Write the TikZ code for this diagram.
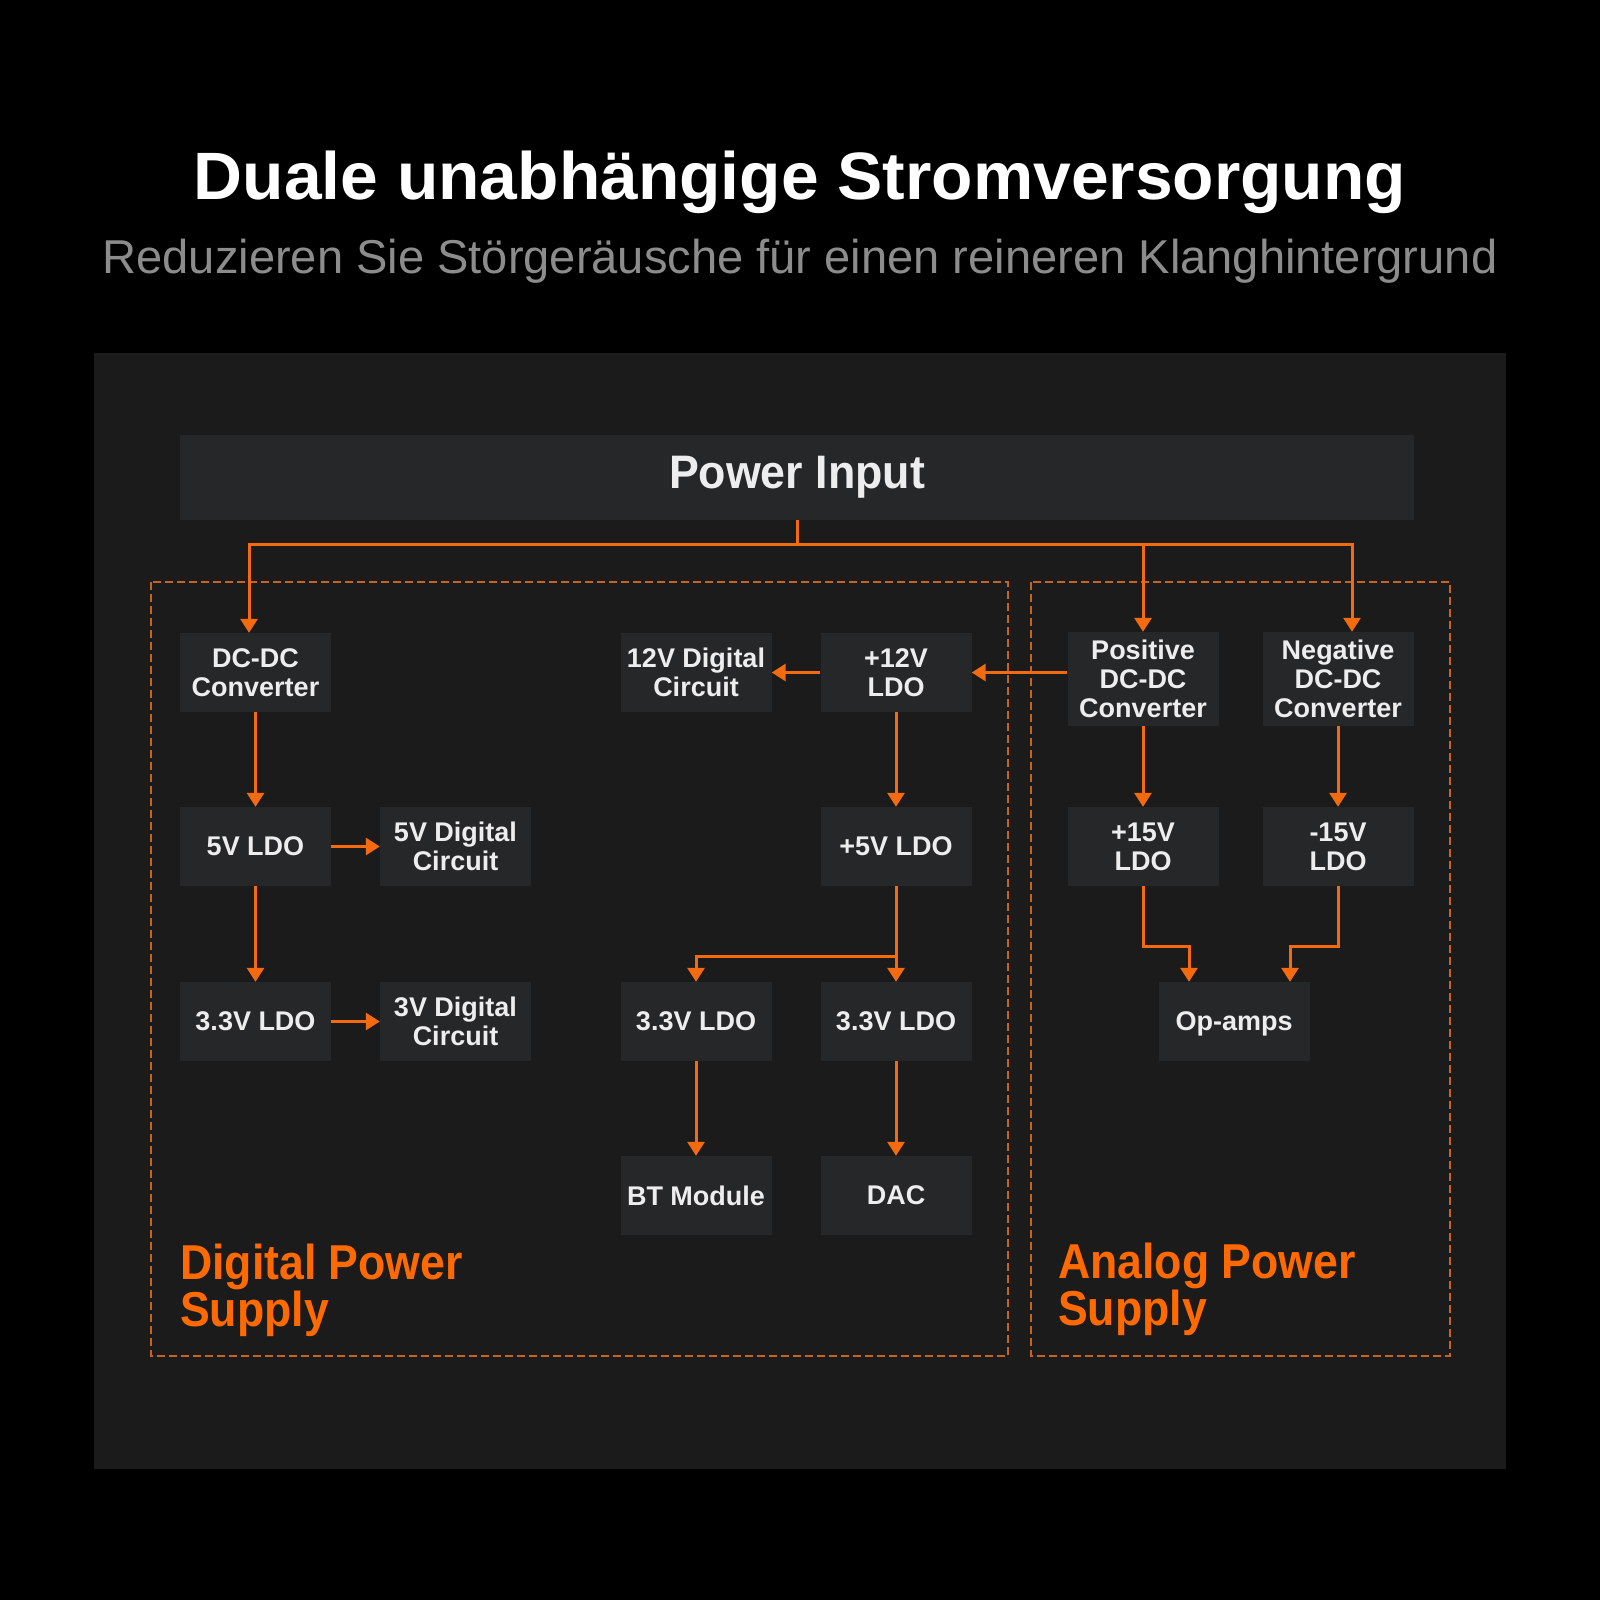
\documentclass[tikz,border=0pt]{standalone}
\usepackage{fontspec}
\setmainfont{Liberation Sans}
\usetikzlibrary{arrows.meta,calc}
\definecolor{panelc}{HTML}{1B1B1B}
\definecolor{boxc}{HTML}{262729}
\definecolor{orng}{HTML}{F46A0E}
\definecolor{dashc}{HTML}{C8621C}
\definecolor{txtc}{HTML}{EDEDED}
\definecolor{subc}{HTML}{8C8C8C}
\definecolor{labc}{HTML}{FF6A00}
\begin{document}
\begin{tikzpicture}[x=1pt,y=-1pt,
  blk/.style={fill=boxc,text=txtc,font=\bfseries\fontsize{27}{29}\selectfont,align=center,minimum width=151pt,minimum height=79pt,inner sep=0pt},
  oneblk/.style={blk,text depth=0pt},
  tallblk/.style={blk,minimum height=94pt},
  arr/.style={draw=orng,line width=3pt,-{Triangle[length=14pt,width=17pt]}},
  wire/.style={draw=orng,line width=3pt},
  grp/.style={draw=dashc,line width=2.5pt,dash pattern=on 8pt off 4pt},
  grplab/.style={text=labc,font=\bfseries\fontsize{49}{44}\selectfont,align=left,inner sep=0pt,anchor=north west}]

\useasboundingbox (0,0) rectangle (1600,1600);
\fill[black] (0,0) rectangle (1600,1600);
\fill[panelc] (94,353) rectangle (1506,1469);

% titles
\node[anchor=base,text=white,font=\bfseries\fontsize{67}{70}\selectfont,inner sep=0pt] (title) at (800,199) {\resizebox{1212pt}{\height}{Duale unabhängige Stromversorgung}};
\node[anchor=base,text=subc,font=\fontsize{47.5}{50}\selectfont,inner sep=0pt] (subtitle) at (800,273) {\resizebox{1395pt}{\height}{Reduzieren Sie Störgeräusche für einen reineren Klanghintergrund}};

% group frames
\draw[grp] (151,582) rectangle (1008,1356);
\draw[grp] (1031,582) rectangle (1450,1356);
\node[grplab] (diglab) at (180,1244) {\scalebox{0.91}[1]{Digital Power}\\\scalebox{0.91}[1]{Supply}};
\node[grplab] (analab) at (1058,1243) {\scalebox{0.91}[1]{Analog Power}\\\scalebox{0.91}[1]{Supply}};

% blocks
\node[blk,minimum width=1234pt,minimum height=85pt,font=\bfseries\fontsize{47}{50}\selectfont] (PI) at (797,477.5) {\resizebox{256pt}{\height}{Power Input}};

\node[blk] (dcdc) at (255.5,672.5) {DC-DC\\Converter};
\node[blk] (d12) at (696,672.5) {12V Digital\\Circuit};
\node[blk] (p12) at (896,672.5) {+12V\\LDO};
\node[tallblk] (pos) at (1143,679) {Positive\\DC-DC\\Converter};
\node[tallblk] (neg) at (1338,679) {Negative\\DC-DC\\Converter};

\node[oneblk] (ldo5) at (255.5,846.5) {5V LDO};
\node[blk] (dig5) at (455.5,846.5) {5V Digital\\Circuit};
\node[oneblk] (p5) at (896,846.5) {+5V LDO};
\node[blk] (p15) at (1143,846.5) {+15V\\LDO};
\node[blk] (m15) at (1338,846.5) {-15V\\LDO};

\node[oneblk] (ldo33) at (255.5,1021.5) {3.3V LDO};
\node[blk] (dig3) at (455.5,1021.5) {3V Digital\\Circuit};
\node[oneblk] (ldoL) at (696,1021.5) {3.3V LDO};
\node[oneblk] (ldoR) at (896,1021.5) {3.3V LDO};
\node[oneblk] (op) at (1234,1021.5) {Op-amps};

\node[oneblk] (bt) at (696,1195.5) {BT Module};
\node[oneblk] (dac) at (896,1195.5) {DAC};

% connectors
\coordinate (bus) at (797,544);
\coordinate (jL) at (249,544);
\coordinate (jR) at (1352,544);
\coordinate (br) at (896,956);
\coordinate (k1) at (1189,946);
\coordinate (k2) at (1290,946);

\draw[wire] (PI.south) -- (bus);
\draw[arr] (bus) -- (jL) -- (jL |- dcdc.north);
\draw[arr] (bus) -| (pos.north);
\draw[arr] (bus) -- (jR) -- (jR |- neg.north);

\draw[arr] (pos.west |- p12.east) -- (p12.east);
\draw[arr] (p12.west) -- (d12.east);
\draw[arr] (p12.south) -- (p5.north);
\draw[arr] (p5.south) -- (ldoR.north);
\draw[arr] (br) -| (ldoL.north);
\draw[arr] (ldoL.south) -- (bt.north);
\draw[arr] (ldoR.south) -- (dac.north);

\draw[arr] (dcdc.south) -- (ldo5.north);
\draw[arr] (ldo5.east) -- (dig5.west);
\draw[arr] (ldo5.south) -- (ldo33.north);
\draw[arr] (ldo33.east) -- (dig3.west);

\draw[arr] (pos.south) -- (p15.north);
\draw[arr] (neg.south) -- (m15.north);
\draw[arr] (p15.south) |- (k1) -- (k1 |- op.north);
\draw[arr] (m15.south) |- (k2) -- (k2 |- op.north);
\end{tikzpicture}
\end{document}
